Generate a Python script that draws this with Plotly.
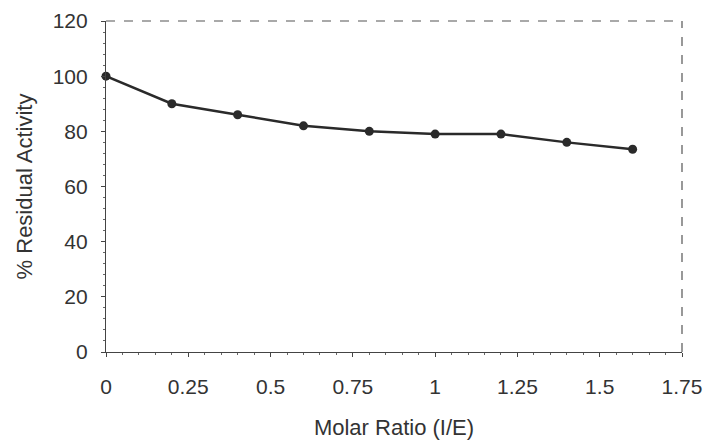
import plotly.graph_objects as go

molar_ratio = [0, 0.2, 0.4, 0.6, 0.8, 1.0, 1.2, 1.4, 1.6]
residual_activity = [100, 90, 86, 82, 80, 79, 79, 76, 73.5]
x_ticks = [0, 0.25, 0.5, 0.75, 1, 1.25, 1.5, 1.75]
x_tick_labels = ["0", "0.25", "0.5", "0.75", "1", "1.25", "1.5", "1.75"]
y_ticks = [0, 20, 40, 60, 80, 100, 120]

ink = "#2a2a2a"
font = "Liberation Sans, Arial, sans-serif"

fig = go.Figure()
fig.add_trace(go.Scatter(
    x=molar_ratio, y=residual_activity, mode="lines+markers",
    line=dict(color=ink, width=2.5),
    marker=dict(color=ink, size=9),
    showlegend=False, cliponaxis=False,
))

fig.update_layout(
    width=705, height=441,
    margin=dict(l=106, r=23, t=21, b=89, autoexpand=False),
    paper_bgcolor="white", plot_bgcolor="white",
    font=dict(family=font, color="#333", size=21),
    shapes=[
        dict(type="line", xref="paper", yref="paper", x0=0, x1=1, y0=1, y1=1,
             line=dict(color="#555", width=1.2, dash="dash")),
        dict(type="line", xref="paper", yref="paper", x0=1, x1=1, y0=0, y1=1,
             line=dict(color="#555", width=1.2, dash="dash")),
    ],
)
fig.update_xaxes(
    range=[0, 1.75], tickvals=x_ticks, ticktext=x_tick_labels, automargin=False,
    showgrid=False, zeroline=False, showline=True, linecolor="#444", linewidth=1.2,
    ticks="outside", ticklen=4, tickcolor="#444", ticklabelstandoff=12,
    minor=dict(dtick=0.05, ticks="outside", ticklen=2, tickcolor="#666"),
    tickfont=dict(size=21, family=font, color="#333"),
    title=dict(text="Molar Ratio (I/E)", font=dict(size=22, family=font, color="#333"), standoff=22),
)
fig.update_yaxes(
    range=[0, 120], tickvals=y_ticks, automargin=False,
    showgrid=False, zeroline=False, showline=True, linecolor="#444", linewidth=1.2,
    ticks="outside", ticklen=4, tickcolor="#444", ticklabelstandoff=9,
    minor=dict(dtick=4, ticks="outside", ticklen=2, tickcolor="#666"),
    tickfont=dict(size=21, family=font, color="#333"),
    title=dict(text="% Residual Activity", font=dict(size=22, family=font, color="#333"), standoff=13),
)

fig.write_html(
    "out.html",
    config={"displayModeBar": False},
    post_script="document.body.style.margin='0';document.body.style.overflow='hidden';",
)
